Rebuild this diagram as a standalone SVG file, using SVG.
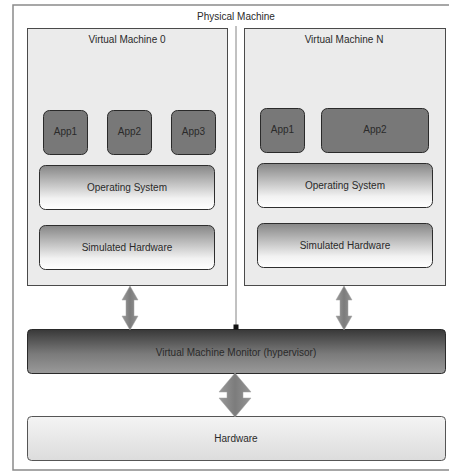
<svg xmlns="http://www.w3.org/2000/svg" width="449" height="471" viewBox="0 0 449 471">
<defs>
<linearGradient id="gLayer" x1="0" y1="0" x2="0" y2="1">
<stop offset="0" stop-color="#868686"/>
<stop offset="0.75" stop-color="#f2f2f2"/>
<stop offset="1" stop-color="#ffffff"/>
</linearGradient>
<linearGradient id="gHyp" x1="0" y1="0" x2="0" y2="1">
<stop offset="0" stop-color="#383838"/>
<stop offset="0.55" stop-color="#7a7a7a"/>
<stop offset="1" stop-color="#9a9a9a"/>
</linearGradient>
<linearGradient id="gHw" x1="0" y1="0" x2="0" y2="1">
<stop offset="0" stop-color="#f4f4f4"/>
<stop offset="1" stop-color="#dcdcdc"/>
</linearGradient>
<linearGradient id="gArrow" x1="0" y1="0" x2="1" y2="0">
<stop offset="0" stop-color="#9a9a9a"/>
<stop offset="0.5" stop-color="#7c7c7c"/>
<stop offset="1" stop-color="#959595"/>
</linearGradient>
</defs>
<style>
text{font-family:"Liberation Sans",Arial,sans-serif;font-size:10px;fill:#2a2a2a;text-anchor:middle;dominant-baseline:central}
.vm{fill:#ebebeb;stroke:#4a4a4a;stroke-width:1}
.app{fill:#787878;stroke:#2a2a2a;stroke-width:1}
.layer{fill:url(#gLayer);stroke:#2e2e2e;stroke-width:1}
.arrow{fill:url(#gArrow);stroke:#a0a0a0;stroke-width:0.5}
</style>
<rect width="449" height="471" fill="#ffffff"/>
<g id="physical-machine">
<rect x="13" y="5" width="460" height="465" fill="#ffffff" stroke="#8a8a8a" stroke-width="1.5"/>
<text x="236" y="16">Physical Machine</text>
</g>
<g id="vm0">
<rect class="vm" x="27.5" y="28.5" width="200" height="257"/>
<text x="127" y="39">Virtual Machine 0</text>
</g>
<g id="vmN">
<rect class="vm" x="244.5" y="28.5" width="201" height="257"/>
<text x="344" y="39">Virtual Machine N</text>
</g>
<g id="vm0-app1"><rect class="app" x="43.5" y="110.5" width="44" height="44" rx="6"/><text x="65.5" y="131">App1</text></g>
<g id="vm0-app2"><rect class="app" x="107.5" y="110.5" width="44" height="44" rx="6"/><text x="129.5" y="131">App2</text></g>
<g id="vm0-app3"><rect class="app" x="171.5" y="110.5" width="44" height="44" rx="6"/><text x="193.5" y="131">App3</text></g>
<g id="vm0-os"><rect class="layer" x="39.5" y="165.5" width="175" height="44" rx="6"/><text x="127" y="187">Operating System</text></g>
<g id="vm0-simhw"><rect class="layer" x="39.5" y="225.5" width="175" height="44" rx="6"/><text x="127" y="247">Simulated Hardware</text></g>
<g id="vmN-app1"><rect class="app" x="260.5" y="108.5" width="44" height="44" rx="6"/><text x="282.5" y="129">App1</text></g>
<g id="vmN-app2"><rect class="app" x="321.5" y="108.5" width="107" height="44" rx="6"/><text x="375" y="129">App2</text></g>
<g id="vmN-os"><rect class="layer" x="257.5" y="163.5" width="175" height="44" rx="6"/><text x="345" y="185">Operating System</text></g>
<g id="vmN-simhw"><rect class="layer" x="257.5" y="223.5" width="175" height="44" rx="6"/><text x="345" y="245">Simulated Hardware</text></g>
<g id="hypervisor">
<rect x="27.5" y="329.5" width="418" height="44" rx="4" fill="url(#gHyp)" stroke="#2a2a2a" stroke-width="1"/>
<text x="236" y="352">Virtual Machine Monitor (hypervisor)</text>
</g>
<g id="hardware">
<rect x="27.5" y="416.5" width="418" height="44" rx="4" fill="url(#gHw)" stroke="#555" stroke-width="1"/>
<text x="236" y="438">Hardware</text>
</g>
<g id="connectors">
<line x1="236" y1="26" x2="236" y2="327" stroke="#666" stroke-width="0.8"/>
<rect x="233.5" y="324.5" width="5" height="5" fill="#111"/>
<path class="arrow" d="M130,286 L138,300 L134,300 L134,316 L138,316 L130,330 L122,316 L126,316 L126,300 L122,300 Z"/>
<path class="arrow" d="M344,286 L352,300 L348,300 L348,316 L352,316 L344,330 L336,316 L340,316 L340,300 L336,300 Z"/>
<path class="arrow" d="M235,373 L251,392 L243,392 L243,398 L251,398 L235,417 L219,398 L227,398 L227,392 L219,392 Z"/>
</g>
</svg>
